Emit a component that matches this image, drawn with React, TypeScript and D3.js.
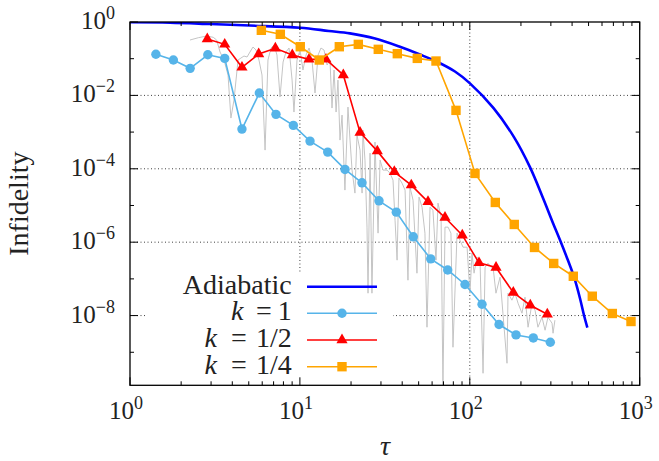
import React from 'react';
import * as d3 from 'd3';

// ---- data ----
const tauK1 = [1.42, 1.80, 2.26, 2.87, 3.61, 4.56, 5.77, 7.23, 9.15, 11.47, 14.58, 18.43, 23.20, 29.21, 36.93, 46.50, 58.88, 74.13, 93.7, 118.0, 148.6, 187.1, 236.5, 297.8];
const infK1 = [0.132, 0.092, 0.0546, 0.128, 0.102, 1.21e-3, 0.0116, 3.04e-3, 1.52e-3, 5.69e-4, 2.85e-4, 9.6e-5, 4.15e-5, 1.34e-5, 6.59e-6, 1.40e-6, 3.51e-7, 1.75e-7, 7.03e-8, 2.04e-8, 5.70e-9, 2.97e-9, 2.46e-9, 1.88e-9];

const tauKHalf = [2.85, 3.61, 4.56, 5.72, 7.17, 9.02, 11.31, 14.24, 18.01, 22.59, 28.55, 35.94, 45.25, 56.75, 71.45, 90.3, 113.3, 142.7, 180.3, 227.0, 285.9];
const infKHalf = [0.344, 0.246, 0.0582, 0.134, 0.192, 0.126, 0.096, 0.096, 0.0359, 9.8e-4, 3.03e-4, 8.27e-5, 3.59e-5, 1.26e-5, 4.72e-6, 1.55e-6, 2.73e-7, 2.05e-7, 4.25e-8, 1.91e-8, 1.09e-8];

const tauKQuarter = [5.93, 7.67, 10.05, 13.01, 17.06, 22.07, 28.93, 37.44, 49.09, 63.25, 82.94, 107.3, 141.3, 182.7, 240.4, 311.8, 406.6, 526.0, 690.0, 888.8];
const infKQuarter = [0.594, 0.462, 0.212, 0.092, 0.212, 0.246, 0.180, 0.137, 0.102, 0.0864, 3.91e-3, 7.48e-5, 1.21e-5, 3.04e-6, 7.18e-7, 2.63e-7, 1.18e-7, 3.37e-8, 1.14e-8, 6.89e-9];

const tauAdiabatic = [1, 1.72, 2.96, 5.08, 10.0, 14.8, 19.7, 27.7, 38.8, 50.9, 64.1, 81.8, 100.2, 138.0, 182, 226, 270, 309, 340, 374, 411, 445, 470, 492];
const infAdiabatic = [0.98, 0.96, 0.88, 0.80, 0.70, 0.57, 0.49, 0.355, 0.212, 0.130, 0.0826, 0.0447, 0.0213, 4.5e-3, 7.3e-4, 1.11e-4, 1.58e-5, 3.3e-6, 1.13e-6, 3.66e-7, 1.11e-7, 2.97e-8, 1.02e-8, 4.7e-9];

// grey oscillating trace, stored as log10(tau) and log10(infidelity)
const grayLog10Tau = [0.353, 0.402, 0.451, 0.490, 0.510, 0.530, 0.553, 0.577, 0.594, 0.612, 0.636, 0.653, 0.671, 0.689, 0.706, 0.724, 0.742, 0.759, 0.777, 0.795, 0.812, 0.830, 0.848, 0.865, 0.883, 0.901, 0.918, 0.936, 0.954, 0.965, 0.983, 1.001, 1.018, 1.036, 1.054, 1.071, 1.089, 1.107, 1.124, 1.142, 1.160, 1.177, 1.189, 1.201, 1.213, 1.224, 1.236, 1.248, 1.265, 1.283, 1.295, 1.307, 1.324, 1.336, 1.354, 1.366, 1.371, 1.383, 1.395, 1.401, 1.413, 1.424, 1.442, 1.460, 1.472, 1.489, 1.513, 1.530, 1.548, 1.560, 1.572, 1.583, 1.601, 1.619, 1.636, 1.648, 1.666, 1.689, 1.701, 1.719, 1.736, 1.748, 1.766, 1.783, 1.801, 1.813, 1.831, 1.842, 1.854, 1.872, 1.889, 1.901, 1.925, 1.942, 1.960, 1.984, 2.001, 2.013, 2.025, 2.042, 2.060, 2.078, 2.090, 2.107, 2.125, 2.137, 2.154, 2.178, 2.195, 2.219, 2.225, 2.248, 2.266, 2.284, 2.307, 2.325, 2.343, 2.366, 2.384, 2.401, 2.425, 2.443, 2.460, 2.484, 2.490, 2.501];
const grayLog10Inf = [-0.491, -0.428, -0.382, -0.417, -0.491, -0.818, -1.036, -1.445, -2.618, -2.127, -1.036, -0.982, -0.927, -0.954, -0.818, -0.682, -0.764, -1.036, -1.445, -3.491, -1.036, -0.709, -0.627, -0.900, -2.045, -1.091, -0.818, -0.709, -1.582, -2.454, -1.036, -0.764, -1.309, -0.900, -0.709, -1.036, -1.936, -0.900, -0.709, -0.764, -1.173, -1.036, -2.345, -1.309, -2.454, -1.582, -3.218, -2.536, -4.581, -2.318, -3.218, -4.036, -4.663, -3.082, -3.491, -4.663, -2.945, -3.763, -5.590, -7.390, -3.572, -7.390, -3.272, -5.754, -3.763, -4.036, -4.036, -4.118, -4.309, -5.399, -6.490, -4.254, -4.390, -4.581, -7.036, -4.500, -4.854, -6.845, -4.772, -5.045, -5.754, -8.317, -5.045, -5.127, -6.490, -4.936, -5.318, -10.0, -5.590, -5.590, -5.754, -8.863, -5.754, -5.945, -6.136, -6.136, -7.390, -6.299, -6.845, -6.409, -6.490, -9.572, -6.681, -6.572, -6.681, -6.681, -7.390, -6.954, -7.936, -9.299, -7.390, -7.581, -7.390, -7.663, -7.936, -7.499, -8.317, -7.663, -7.854, -8.317, -8.045, -8.399, -8.045, -8.208, -8.481, -8.126];

const xMajorTicks = [1, 10, 100, 1000];
const xMajorExps = ['0', '1', '2', '3'];
const yLabelTicks = [1, 1e-2, 1e-4, 1e-6, 1e-8];
const yLabelExps = ['0', '−2', '−4', '−6', '−8'];
const yOddTicks = [1e-1, 1e-3, 1e-5, 1e-7, 1e-9];
const xGridTicks = [10, 100];
const yGridTicks = [1e-2, 1e-4, 1e-6, 1e-8];

const legendLabels = ['Adiabatic', 'k = 1', 'k = 1/2', 'k = 1/4'];
const legendKValues = ['', '1', '1/2', '1/4'];

const W = 659;
const H = 461;
const L = 130, R = 639.7, T = 22, B = 385.3;

const C_ADI = '#0000ff';
const C_K1 = '#56b4e9';
const C_K2 = '#ff0000';
const C_K4 = '#ffa500';
const C_GRAY = '#c4c4c4';

const CSS = `
.chart text, .chart tspan { font-family: "Liberation Serif", "Times New Roman", Tinos, serif !important; }
`;

export default function App() {
  const x = d3.scaleLog().domain([1, 1000]).range([L, R]);
  const y = d3.scaleLog().domain([Math.pow(10, -9.9), 1]).range([B, T]);

  const zip = (a: number[], b: number[]) => a.map((v, i) => [v, b[i]] as [number, number]);
  const line = d3.line<[number, number]>().x(d => x(d[0])).y(d => y(d[1]));
  const smooth = d3.line<[number, number]>().x(d => x(d[0])).y(d => y(d[1])).curve(d3.curveCatmullRom.alpha(0.5));

  const k1 = zip(tauK1, infK1);
  const k2 = zip(tauKHalf, infKHalf);
  const k4 = zip(tauKQuarter, infKQuarter);
  const adi = zip(tauAdiabatic, infAdiabatic);
  const gray = grayLog10Tau.map((v, i) => [Math.pow(10, v), Math.pow(10, grayLog10Inf[i])] as [number, number]);

  const tri = d3.symbol().type(d3.symbolTriangle).size(54)();

  const xMinor: number[] = [];
  for (let d = 1; d < 1000; d *= 10) for (let m = 2; m <= 9; m++) xMinor.push(d * m);

  const legendY = [286.7, 313.3, 340, 366.7];
  const legendColors = [C_ADI, C_K1, C_K2, C_K4];
  // horizontal layout of the "k = value" pieces (k right edge, '=' centre)
  const kEnd = [0, 243.5, 217, 217];
  const eqMid = [0, 264, 239, 239];

  const marker = (kind: string, cx: number, cy: number, color: string, key: any) => {
    if (kind === 'circle') return <circle key={key} cx={cx} cy={cy} r={4.7} fill={color} />;
    if (kind === 'square') return <rect key={key} x={cx - 4.7} y={cy - 4.7} width={9.4} height={9.4} fill={color} />;
    if (kind === 'tri') return <path key={key} d={tri as string} transform={`translate(${cx},${cy})`} fill={color} />;
    return null;
  };

  const FF = 'Liberation Serif';

  return (
    <svg className="chart" width={W} height={H} fontFamily={FF} style={{ position: 'absolute', left: 0, top: 0, background: '#fff' }}>
      <style>{CSS}</style>
      <defs>
        <clipPath id="plotclip">
          <rect x={L} y={T} width={R - L} height={B - T} />
        </clipPath>
      </defs>
      <rect x={0} y={0} width={W} height={H} fill="#fff" />

      {/* grid */}
      <g stroke="#000" strokeWidth={1} strokeDasharray="1 2.5" opacity={0.75}>
        {xGridTicks.map(t => (
          <line key={'gx' + t} x1={x(t)} x2={x(t)} y1={T} y2={B} />
        ))}
        {yGridTicks.map(t => (
          <line key={'gy' + t} x1={L} x2={R} y1={y(t)} y2={y(t)} />
        ))}
      </g>
      {/* legend background hides grid */}
      <rect x={146} y={273} width={247} height={B - 273 - 1} fill="#fff" />

      <g clipPath="url(#plotclip)">
        <path d={line(gray) as string} fill="none" stroke={C_GRAY} strokeWidth={1} />
        <path d={smooth(adi) as string} fill="none" stroke={C_ADI} strokeWidth={2.6} />
        <path d={line(k1) as string} fill="none" stroke={C_K1} strokeWidth={1.6} />
        {k1.map((d, i) => marker('circle', x(d[0]), y(d[1]), C_K1, 'c' + i))}
        <path d={line(k2) as string} fill="none" stroke={C_K2} strokeWidth={1.6} />
        {k2.map((d, i) => marker('tri', x(d[0]), y(d[1]), C_K2, 't' + i))}
        <path d={line(k4) as string} fill="none" stroke={C_K4} strokeWidth={1.6} />
        {k4.map((d, i) => marker('square', x(d[0]), y(d[1]), C_K4, 's' + i))}
      </g>

      {/* ticks */}
      <g stroke="#000" strokeWidth={1}>
        {xMajorTicks.map(t => (
          <g key={'xt' + t}>
            <line x1={x(t)} x2={x(t)} y1={B} y2={B - 8} />
            <line x1={x(t)} x2={x(t)} y1={T} y2={T + 8} />
          </g>
        ))}
        {xMinor.map(t => (
          <g key={'xm' + t}>
            <line x1={x(t)} x2={x(t)} y1={B} y2={B - 4} />
            <line x1={x(t)} x2={x(t)} y1={T} y2={T + 4} />
          </g>
        ))}
        {yLabelTicks.map(t => (
          <g key={'yt' + t}>
            <line x1={L} x2={L + 8} y1={y(t)} y2={y(t)} />
            <line x1={R} x2={R - 8} y1={y(t)} y2={y(t)} />
          </g>
        ))}
        {yOddTicks.map(t => (
          <g key={'yo' + t}>
            <line x1={L} x2={L + 4} y1={y(t)} y2={y(t)} />
            <line x1={R} x2={R - 4} y1={y(t)} y2={y(t)} />
          </g>
        ))}
      </g>

      {/* frame */}
      <rect x={L} y={T} width={R - L} height={B - T} fill="none" stroke="#000" strokeWidth={1.3} />

      {/* tick labels */}
      <g fill="#222" fontSize={25}>
        {xMajorTicks.map((t, i) => (
          <text key={'xl' + t} x={x(t) - 4} y={419} textAnchor="middle" fontFamily={FF}>
            10<tspan fontSize={18} dy={-10}>{xMajorExps[i]}</tspan>
          </text>
        ))}
        {yLabelTicks.map((t, i) => (
          <text key={'yl' + t} x={115} y={y(t) + 7} textAnchor="end" fontFamily={FF}>
            10<tspan fontSize={18} dy={-10}>{yLabelExps[i]}</tspan>
          </text>
        ))}
      </g>

      {/* axis titles */}
      <text x={385} y={455} fontSize={28} fontStyle="italic" textAnchor="middle" fill="#222" fontFamily={FF}>τ</text>
      <text transform={`translate(28,${(T + B) / 2}) rotate(-90)`} fontSize={28} textAnchor="middle" fill="#222" fontFamily={FF}>Infidelity</text>

      {/* legend */}
      <g fontSize={28} fill="#222">
        {legendLabels.map((lab, i) => (
          <g key={'lg' + i}>
            {i === 0 ? (
              <text x={291.7} y={legendY[i] + 7} textAnchor="end" fontFamily={FF}>{lab}</text>
            ) : (
              <text y={legendY[i] + 7} fontFamily={FF}>
                <tspan x={kEnd[i]} textAnchor="end" fontStyle="italic">k</tspan>
                <tspan x={eqMid[i]} textAnchor="middle">=</tspan>
                <tspan x={291.7} textAnchor="end">{legendKValues[i]}</tspan>
              </text>
            )}
            <line x1={307} x2={377} y1={legendY[i]} y2={legendY[i]} stroke={legendColors[i]} strokeWidth={i === 0 ? 2.6 : 1.6} />
            {i === 1 && marker('circle', 342, legendY[i], C_K1, 'lm1')}
            {i === 2 && marker('tri', 342, legendY[i], C_K2, 'lm2')}
            {i === 3 && marker('square', 342, legendY[i], C_K4, 'lm3')}
          </g>
        ))}
      </g>
    </svg>
  );
}
